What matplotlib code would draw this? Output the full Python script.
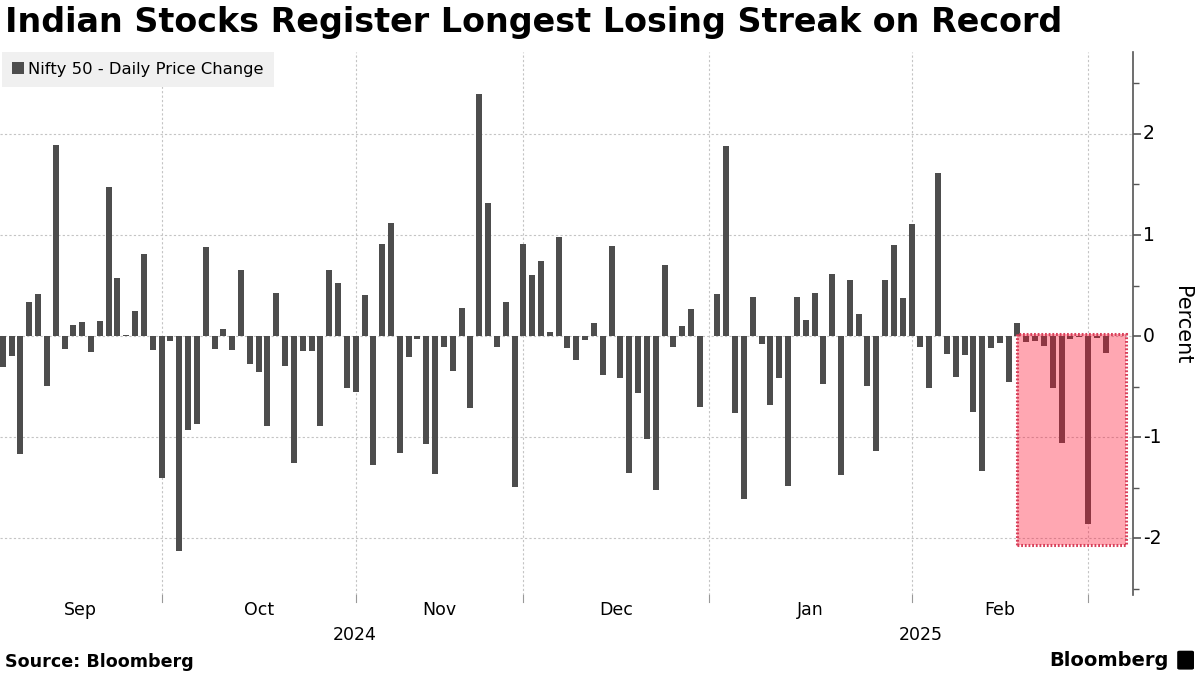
import matplotlib
matplotlib.use('Agg')
import matplotlib.pyplot as plt
from matplotlib.patches import Rectangle, Patch, FancyBboxPatch
from matplotlib.ticker import MultipleLocator
import numpy as np

# Nifty 50 daily % change, one value per trading day (early Sep 2024 -> early Mar 2025)
daily_change = [
    -0.31, -0.20, -1.17, 0.34, 0.42, -0.49, 1.89, -0.125, 0.11, 0.14,
    -0.16, 0.15, 1.475, 0.574, 0.01, 0.25, 0.81, -0.14, -1.40, -0.046,
    -2.12, -0.93, -0.87, 0.885, -0.13, 0.07, -0.14, 0.65, -0.28, -0.35,
    -0.89, 0.43, -0.30, -1.25, -0.15, -0.15, -0.89, 0.65, 0.525, -0.515,
    -0.555, 0.41, -1.27, 0.91, 1.12, -1.16, -0.21, -0.03, -1.07, -1.36,
    -0.11, -0.34, 0.28, -0.71, 2.39, 1.32, -0.11, 0.34, -1.49, 0.91,
    0.60, 0.74, 0.04, 0.98, -0.12, -0.24, -0.04, 0.13, -0.38, 0.89,
    -0.41, -1.35, -0.56, -1.02, -1.52, 0.70, -0.11, 0.10, 0.27, -0.70,
    0.005, 0.42, 1.88, -0.76, -1.61, 0.39, -0.08, -0.68, -0.41, -1.48,
    0.39, 0.16, 0.43, -0.47, 0.61, -1.37, 0.56, 0.22, -0.49, -1.14,
    0.56, 0.90, 0.38, 1.11, -0.11, -0.515, 1.61, -0.18, -0.40, -0.19,
    -0.75, -1.33, -0.12, -0.064, -0.45, 0.13, -0.06, -0.05, -0.095, -0.51,
    -1.06, -0.03, -0.01, -1.86, -0.02, -0.17,
]

# trading-day index where each month starts (Oct, Nov, Dec, Jan, Feb, Mar)
month_starts = [18, 40, 59, 80, 103, 123]
month_names = ['Sep', 'Oct', 'Nov', 'Dec', 'Jan', 'Feb']
year_names = ['2024', '2025']
year_starts = [80]

# the losing streak highlight (trading-day index range, percent range)
streak_x = [115.0, 127.3]
streak_y = [-2.07, 0.02]

BAR_COLOR = '#4d4d4d'
GRID_COLOR = '#c4c4c4'

X_MIN, X_MAX = -0.31, 128.07
Y_MIN, Y_MAX = -2.56, 2.81

fig = plt.figure(figsize=(12, 6.75), dpi=100)
ax = fig.add_axes([0.0, 0.1185, 0.944, 0.8045])

x = np.arange(len(daily_change))
ax.bar(x, daily_change, width=0.68, color=BAR_COLOR, zorder=3)

ax.set_xlim(X_MIN, X_MAX)
ax.set_ylim(Y_MIN, Y_MAX)

# --- y axis on the right ---
ax.yaxis.tick_right()
ax.yaxis.set_major_locator(MultipleLocator(1))
ax.yaxis.set_minor_locator(MultipleLocator(0.5))
ax.tick_params(axis='y', which='major', length=6, width=1.2, color='#555555')
ax.tick_params(axis='y', which='minor', length=4, width=1, color='#555555')
ax.set_yticklabels([])
for v in range(-2, 3):
    ax.text(1.0 + 10 / 1133, (v - Y_MIN) / (Y_MAX - Y_MIN), str(v), transform=ax.transAxes,
            ha='left', va='center', fontsize=13.5, color='black')
fig.text(0.985, 1 - 325 / 675, 'Percent', rotation=270, ha='center', va='center',
         fontsize=15, color='black')

for side in ['top', 'left', 'bottom']:
    ax.spines[side].set_visible(False)
ax.spines['right'].set_color('#555555')
ax.spines['right'].set_linewidth(1.2)

# --- grid ---
ax.set_xticks([])
for v in range(-2, 3):
    ax.axhline(v, color=GRID_COLOR, linestyle=(0, (2, 2)), linewidth=0.8, zorder=1)
for m in month_starts:
    ax.axvline(m, color=GRID_COLOR, linestyle=(0, (2, 2)), linewidth=0.8, zorder=1)
    ax.plot([m, m], [0, -0.012], transform=ax.get_xaxis_transform(), color='#999999',
            linewidth=0.8, clip_on=False)

# --- month and year labels ---
bounds = [X_MIN] + month_starts
for i, name in enumerate(month_names):
    mid = (bounds[i] + bounds[i + 1]) / 2
    ax.text(mid, -0.027, name, transform=ax.get_xaxis_transform(), ha='center', va='center',
            fontsize=12.5, color='black')
ybounds = [X_MIN] + year_starts + [X_MAX]
for i, name in enumerate(year_names):
    mid = (ybounds[i] + ybounds[i + 1]) / 2
    ax.text(mid, -0.073, name, transform=ax.get_xaxis_transform(), ha='center', va='center',
            fontsize=12.5, color='black')

# --- highlight box over the streak ---
w = streak_x[1] - streak_x[0]
h = streak_y[1] - streak_y[0]
ax.add_patch(Rectangle((streak_x[0], streak_y[0]), w, h, facecolor='#ff1030', alpha=0.37,
                       edgecolor='none', zorder=4))
ax.add_patch(Rectangle((streak_x[0], streak_y[0]), w, h, facecolor='none',
                       edgecolor='#d8405a', linewidth=2.2, linestyle=(0, (0.6, 0.6)), zorder=5))

# --- legend ---
leg = ax.legend(handles=[Patch(facecolor=BAR_COLOR, edgecolor='none')],
                labels=['Nifty 50 - Daily Price Change'],
                loc='upper left', bbox_to_anchor=(0.002, 1.0), borderaxespad=0,
                frameon=True, fancybox=False, fontsize=11.8, handlelength=0.7,
                handleheight=0.7, handletextpad=0.3, borderpad=0.6)
leg.get_frame().set_facecolor('#f0f0f0')
leg.get_frame().set_edgecolor('none')
leg.get_frame().set_alpha(1)
leg.set_zorder(10)

# --- title and footer ---
fig.text(0.004, 0.966, 'Indian Stocks Register Longest Losing Streak on Record',
         ha='left', va='center', fontsize=24, fontweight='heavy', color='black')
fig.text(0.004, 0.019, 'Source: Bloomberg', ha='left', va='center', fontsize=12.6,
         fontweight='bold', color='black')
fig.text(0.974, 0.021, 'Bloomberg', ha='right', va='center', fontsize=14,
         fontweight='bold', color='black')
fig.patches.append(FancyBboxPatch((0.983, 0.01), 0.01, 0.024, boxstyle='round,pad=0.002',
                                  transform=fig.transFigure, facecolor='black',
                                  edgecolor='none', figure=fig))

fig.savefig('out.png', dpi=100)
